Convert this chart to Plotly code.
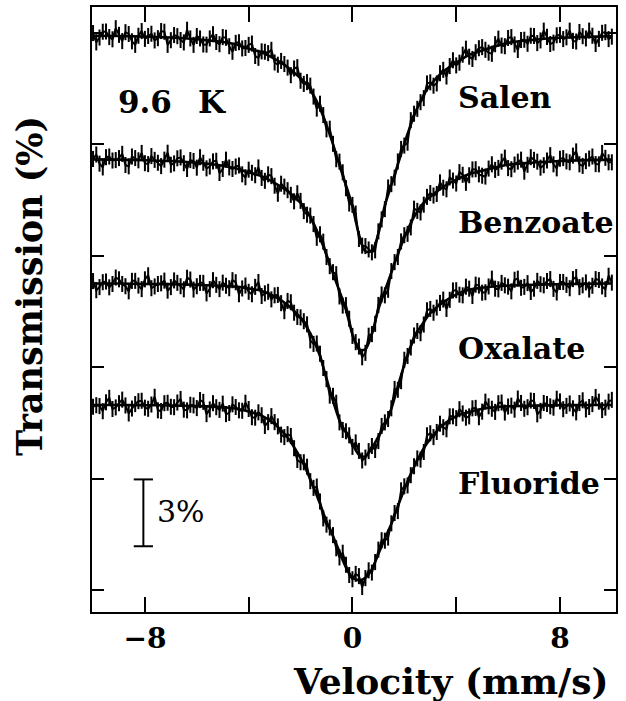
import plotly.graph_objects as go

# ---------------- data (transmission in %, baseline = 100) ----------------
# channel set A (quarter-integer velocities)
V_DATA_A = [-10.0, -9.75, -9.5, -9.25, -9.0, -8.75, -8.5, -8.25, -8.0, -7.75,
            -7.5, -7.25, -7.0, -6.75, -6.5, -6.25, -6.0, -5.75, -5.5, -5.25,
            -5.0, -4.75, -4.5, -4.25, -4.0, -3.75, -3.5, -3.25, -3.0, -2.75,
            -2.5, -2.25, -2.0, -1.75, -1.5, -1.25, -1.0, -0.75, -0.5, -0.25,
            0.0, 0.25, 0.5, 0.75, 1.0, 1.25, 1.5, 1.75, 2.0, 2.25,
            2.5, 2.75, 3.0, 3.25, 3.5, 3.75, 4.0, 4.25, 4.5, 4.75,
            5.0, 5.25, 5.5, 5.75, 6.0, 6.25, 6.5, 6.75, 7.0, 7.25,
            7.5, 7.75, 8.0, 8.25, 8.5, 8.75, 9.0, 9.25, 9.5, 9.75,
            10.0]
# channel set B (in-between velocities)
V_DATA_B = [-9.875, -9.625, -9.375, -9.125, -8.875, -8.625, -8.375, -8.125, -7.875, -7.625,
            -7.375, -7.125, -6.875, -6.625, -6.375, -6.125, -5.875, -5.625, -5.375, -5.125,
            -4.875, -4.625, -4.375, -4.125, -3.875, -3.625, -3.375, -3.125, -2.875, -2.625,
            -2.375, -2.125, -1.875, -1.625, -1.375, -1.125, -0.875, -0.625, -0.375, -0.125,
            0.125, 0.375, 0.625, 0.875, 1.125, 1.375, 1.625, 1.875, 2.125, 2.375,
            2.625, 2.875, 3.125, 3.375, 3.625, 3.875, 4.125, 4.375, 4.625, 4.875,
            5.125, 5.375, 5.625, 5.875, 6.125, 6.375, 6.625, 6.875, 7.125, 7.375,
            7.625, 7.875, 8.125, 8.375, 8.625, 8.875, 9.125, 9.375, 9.625, 9.875]

SALEN_A = [100.08, 99.88, 100.15, 99.80, 100.00, 100.12, 99.71, 99.96, 99.82, 100.05,
           99.85, 100.14, 99.76, 99.94, 99.66, 99.84, 99.95, 99.57, 99.84, 99.68,
           99.90, 99.49, 99.64, 99.39, 99.55, 99.05, 99.26, 99.18, 98.76, 98.83,
           98.53, 98.49, 97.94, 97.88, 97.23, 96.91, 95.76, 95.11, 94.31, 93.12,
           92.37, 90.84, 90.52, 90.24, 91.18, 92.18, 93.30, 94.32, 95.03, 96.17,
           96.68, 97.16, 97.87, 97.82, 98.43, 98.60, 98.63, 99.11, 99.02, 99.22,
           99.45, 99.20, 99.58, 99.52, 99.86, 99.57, 99.77, 99.60, 99.95, 99.75,
           99.91, 99.65, 100.00, 99.89, 99.73, 100.13, 99.84, 99.96, 99.82, 100.12,
           99.92]
SALEN_B = [99.66, 100.14, 99.90, 100.30, 99.72, 100.04, 99.55, 100.17, 99.95, 99.75,
           100.17, 99.55, 99.99, 99.77, 100.23, 99.55, 99.84, 99.56, 100.03, 99.58,
           99.87, 99.24, 99.67, 99.41, 99.61, 98.97, 99.24, 99.33, 98.66, 98.69,
           98.19, 98.55, 97.80, 97.72, 96.69, 96.40, 95.79, 94.42, 93.83, 92.43,
           91.98, 90.54, 90.37, 90.33, 91.72, 93.15, 93.59, 94.88, 95.16, 96.46,
           96.98, 97.82, 97.72, 98.28, 98.13, 98.86, 98.75, 99.38, 98.92, 99.40,
           99.33, 99.15, 99.83, 99.49, 99.90, 99.32, 99.78, 99.96, 99.63, 100.19,
           99.59, 99.98, 99.81, 100.19, 99.70, 99.94, 100.19, 99.59, 100.09, 99.81]

BENZOATE_A = [99.98, 99.77, 100.06, 99.91, 100.02, 99.71, 100.09, 99.92, 99.79, 100.11,
              99.81, 99.95, 99.72, 100.01, 99.79, 99.93, 99.59, 99.81, 99.64, 99.90,
              99.53, 99.60, 99.64, 99.29, 99.50, 99.25, 99.13, 99.29, 98.78, 98.87,
              98.58, 98.08, 98.10, 97.48, 97.06, 96.60, 95.58, 94.90, 93.81, 93.42,
              92.04, 91.56, 91.28, 92.12, 93.43, 93.86, 94.95, 95.58, 96.56, 96.91,
              97.65, 97.93, 98.45, 98.41, 98.69, 99.15, 98.88, 99.27, 99.25, 99.52,
              99.23, 99.55, 99.49, 99.86, 99.57, 99.73, 99.95, 99.72, 99.94, 99.59,
              99.91, 99.74, 99.99, 99.87, 100.13, 99.74, 99.88, 100.09, 99.74, 100.03,
              99.83]
BENZOATE_B = [100.18, 99.60, 100.09, 99.93, 100.21, 99.65, 100.02, 100.25, 99.75, 99.94,
              99.66, 100.26, 99.78, 100.05, 99.53, 99.89, 100.06, 99.56, 99.87, 99.35,
              99.95, 99.53, 99.69, 99.16, 99.36, 99.60, 99.00, 99.21, 98.42, 98.74,
              98.37, 98.44, 97.64, 97.44, 96.44, 96.27, 95.17, 94.81, 93.40, 92.81,
              91.76, 91.08, 92.05, 92.58, 93.90, 94.11, 95.35, 96.28, 96.62, 97.75,
              97.58, 98.28, 98.34, 98.93, 98.62, 99.01, 99.39, 98.91, 99.51, 99.29,
              99.19, 99.74, 99.58, 100.04, 99.52, 99.86, 99.41, 100.06, 99.86, 99.70,
              100.15, 99.56, 100.02, 99.83, 100.32, 99.67, 100.00, 99.75, 100.25, 99.83]

OXALATE_A = [100.09, 99.82, 100.07, 99.96, 100.17, 99.86, 100.10, 99.89, 100.17, 99.77,
             99.96, 100.11, 99.82, 100.01, 99.72, 100.16, 99.86, 100.01, 99.73, 99.92,
             100.02, 99.77, 100.04, 99.76, 99.61, 99.83, 99.42, 99.61, 99.45, 99.10,
             99.20, 98.67, 98.46, 98.15, 97.27, 96.83, 95.69, 94.94, 93.75, 93.35,
             92.65, 92.47, 92.17, 92.69, 92.91, 93.75, 94.38, 95.21, 96.56, 97.11,
             97.85, 98.14, 98.84, 98.90, 99.26, 99.25, 99.68, 99.45, 99.75, 99.93,
             99.57, 99.85, 99.75, 100.01, 99.84, 100.15, 99.79, 100.00, 99.75, 99.95,
             100.09, 99.74, 100.05, 99.92, 100.18, 99.82, 100.03, 99.88, 100.14, 99.73,
             100.02]
OXALATE_B = [99.68, 100.04, 99.81, 100.25, 99.96, 99.63, 100.10, 99.73, 100.35, 99.85,
             99.99, 99.66, 100.12, 99.86, 100.24, 99.71, 100.01, 99.54, 100.13, 99.73,
             99.88, 100.13, 99.50, 99.89, 99.50, 100.05, 99.54, 99.27, 99.47, 98.74,
             99.14, 98.48, 98.29, 97.43, 97.29, 96.19, 94.95, 94.63, 93.41, 93.17,
             92.85, 92.04, 92.46, 92.51, 93.59, 93.90, 95.25, 95.60, 96.73, 97.65,
             97.75, 98.78, 98.67, 99.11, 98.84, 99.67, 99.48, 99.84, 99.42, 99.89,
             99.59, 100.20, 99.72, 99.90, 99.63, 100.20, 99.83, 99.60, 100.10, 99.90,
             100.18, 99.58, 100.05, 99.77, 100.27, 99.90, 99.71, 100.18, 99.85, 100.33]

FLUORIDE_A = [99.91, 99.94, 100.11, 99.81, 100.07, 99.97, 99.83, 100.16, 99.87, 100.01,
              99.75, 100.07, 99.91, 100.10, 99.78, 100.00, 99.85, 100.13, 99.79, 99.89,
              100.05, 99.63, 99.90, 99.73, 99.81, 99.42, 99.53, 99.22, 99.22, 98.66,
              98.68, 98.05, 97.42, 97.22, 96.27, 95.66, 94.62, 94.15, 93.15, 92.82,
              92.17, 92.31, 92.22, 92.47, 93.50, 93.90, 94.68, 95.23, 96.34, 96.84,
              97.59, 97.88, 98.72, 98.78, 98.99, 99.48, 99.40, 99.61, 99.48, 99.86,
              99.69, 99.93, 99.68, 100.10, 99.92, 99.78, 100.08, 99.89, 100.17, 99.73,
              100.03, 99.87, 100.15, 99.95, 99.84, 100.08, 99.79, 100.03, 100.14, 99.87,
              100.22]
FLUORIDE_B = [99.98, 99.71, 100.31, 99.88, 100.23, 99.61, 100.03, 100.18, 99.82, 100.36,
              99.72, 100.09, 99.89, 100.26, 99.75, 99.97, 100.21, 99.58, 100.07, 99.77,
              99.58, 100.02, 99.75, 100.09, 99.44, 99.66, 99.05, 99.49, 99.03, 98.55,
              98.60, 97.52, 97.42, 96.57, 96.33, 94.90, 94.49, 93.56, 93.36, 92.36,
              92.41, 91.82, 92.57, 92.94, 93.92, 94.04, 95.14, 96.16, 96.38, 97.24,
              97.54, 98.63, 98.55, 99.15, 98.90, 99.48, 99.80, 99.42, 99.84, 99.44,
              100.14, 99.82, 100.07, 99.65, 99.96, 100.28, 99.82, 100.19, 99.57, 100.08,
              99.93, 100.27, 99.80, 100.06, 99.66, 100.20, 99.90, 100.35, 99.76, 100.14]

V_FIT = [-10, -9, -8, -7, -6, -5, -4.5, -4, -3.5, -3, -2.5, -2,
         -1.75, -1.5, -1.25, -1, -0.75, -0.5, -0.25, 0, 0.25, 0.5, 0.75, 1, 1.25, 1.5,
         1.75, 2, 2.25, 2.5, 2.75, 3, 3.5, 4, 4.5, 5, 6, 7, 8, 9, 10]

SALEN_FIT = [99.96, 99.95, 99.92, 99.88, 99.80, 99.68, 99.58, 99.38, 99.22, 98.92, 98.55, 98.05,
             97.75, 97.30, 96.70, 95.95, 95.10, 94.15, 93.25, 92.30, 91.05, 90.28, 90.30, 91.08,
             92.35, 93.27, 94.18, 95.12, 95.97, 96.72, 97.31,
             97.75, 98.35, 98.75, 99.10, 99.30, 99.64, 99.78, 99.87, 99.91, 99.94]
BENZOATE_FIT = [99.96, 99.95, 99.92, 99.89, 99.81, 99.68, 99.56, 99.38, 99.21, 98.90, 98.54, 98.01,
                97.62, 97.09, 96.43, 95.68, 94.84, 94.05, 93.21, 92.11, 91.43, 91.44, 92.13, 93.24,
                94.07, 94.88, 95.71, 96.45, 97.10, 97.63, 98.02,
                98.29, 98.73, 99.05, 99.31, 99.45, 99.72, 99.82, 99.89, 99.93, 99.95]
OXALATE_FIT = [99.98, 99.98, 99.96, 99.95, 99.92, 99.88, 99.84, 99.76, 99.65, 99.40, 99.02, 98.44,
               98.00, 97.45, 96.72, 95.72, 94.72, 93.85, 93.29, 92.79, 92.30, 92.22, 92.60, 93.11,
               93.62, 94.37, 95.37, 96.33, 97.18, 97.81, 98.25,
               98.65, 99.14, 99.48, 99.70, 99.79, 99.89, 99.93, 99.95, 99.97, 99.98]
FLUORIDE_FIT = [99.99, 99.99, 99.98, 99.97, 99.94, 99.89, 99.83, 99.70, 99.51, 99.14, 98.53, 97.60,
                97.00, 96.30, 95.56, 94.76, 94.10, 93.40, 92.70, 92.25, 92.13, 92.24, 92.62, 93.30,
                94.00, 94.65, 95.45, 96.20, 96.90, 97.50, 98.05,
                98.47, 99.10, 99.49, 99.67, 99.82, 99.93, 99.96, 99.98, 99.99, 99.99]

NAMES = ["Salen", "Benzoate", "Oxalate", "Fluoride"]
DATA_A = [SALEN_A, BENZOATE_A, OXALATE_A, FLUORIDE_A]
DATA_B = [SALEN_B, BENZOATE_B, OXALATE_B, FLUORIDE_B]
FITS = [SALEN_FIT, BENZOATE_FIT, OXALATE_FIT, FLUORIDE_FIT]
OFFSETS = [24.92, 19.37, 13.78, 8.32]      # vertical stacking of spectra (%)
ERR = 0.36                                 # statistical error bar (%)
SCALE_BAR = 3                              # 3 % scale bar
SCALE_BASE = 1.97

X_TICKS = [-8, -4, 0, 4, 8]
X_TICKTEXT = ["\u22128", "", "0", "", "8"]
Y_TICKS = [0, 5, 10, 15, 20, 25]

FONT = "DejaVu Serif"

fig = go.Figure()
for name, da, db, f, off in zip(NAMES, DATA_A, DATA_B, FITS, OFFSETS):
    pts = sorted(zip(V_DATA_A + V_DATA_B, da + db))
    xs = [p[0] for p in pts]
    ys = [p[1] - 100 + off for p in pts]
    fig.add_trace(go.Scatter(
        x=xs, y=ys, mode="lines",
        line=dict(color="black", width=2.0),
        error_y=dict(type="constant", value=ERR, thickness=2.0, width=0, color="black"),
        showlegend=False, hoverinfo="skip"))
    fig.add_trace(go.Scatter(
        x=V_FIT, y=[t - 100 + off for t in f], mode="lines",
        line=dict(color="black", width=2.6, shape="spline", smoothing=0.8),
        showlegend=False, name=name))

# scale bar
bx, cap = -8.06, 0.37
fig.add_shape(type="line", x0=bx, x1=bx, y0=SCALE_BASE, y1=SCALE_BASE + SCALE_BAR,
              line=dict(color="black", width=2))
for yy in (SCALE_BASE, SCALE_BASE + SCALE_BAR):
    fig.add_shape(type="line", x0=bx - cap, x1=bx + cap, y0=yy, y1=yy,
                  line=dict(color="black", width=2))
fig.add_annotation(x=-7.6, y=SCALE_BASE + SCALE_BAR / 2 + 0.05, text="3%", showarrow=False,
                   xanchor="left", yanchor="middle",
                   font=dict(family=FONT, size=30, color="black"))

# labels
label_y = [96, 221, 348, 483]
for name, py in zip(NAMES, label_y):
    fig.add_annotation(x=(456 - 92) / 524, y=(612 - py) / 607, xref="paper", yref="paper",
                       text=name, showarrow=False, xanchor="left", yanchor="middle",
                       font=dict(family=FONT, size=30, color="black", weight="bold"))
fig.add_annotation(x=(116 - 92) / 524, y=(612 - 100) / 607, xref="paper", yref="paper",
                   text="9.6", showarrow=False, xanchor="left", yanchor="middle",
                   font=dict(family=FONT, size=31, color="black", weight="bold"))
fig.add_annotation(x=(196 - 92) / 524, y=(612 - 100) / 607, xref="paper", yref="paper",
                   text="K", showarrow=False, xanchor="left", yanchor="middle",
                   font=dict(family=FONT, size=31, color="black", weight="bold"))

# axis titles
fig.add_annotation(x=(451 - 92) / 524, y=(612 - 681) / 607, xref="paper", yref="paper",
                   text="Velocity (mm/s)", showarrow=False, xanchor="center", yanchor="middle",
                   font=dict(family=FONT, size=36, color="black", weight="bold"))
fig.add_annotation(x=(29 - 92) / 524, y=(612 - 285) / 607, xref="paper", yref="paper",
                   text="Transmission (%)", showarrow=False, textangle=-90,
                   xanchor="center", yanchor="middle",
                   font=dict(family=FONT, size=35, color="black", weight="bold"))

fig.update_xaxes(range=[-10.04, 10.16], tickvals=X_TICKS, ticktext=X_TICKTEXT,
                 ticks="inside", ticklen=15, tickwidth=2, tickcolor="black",
                 showline=True, linewidth=2, linecolor="black", mirror="ticks",
                 showgrid=False, zeroline=False,
                 tickfont=dict(family=FONT, size=28, color="black", weight="bold"))
fig.update_yaxes(range=[-0.98, 26.17], tickvals=Y_TICKS, showticklabels=False,
                 ticks="inside", ticklen=12, tickwidth=2, tickcolor="black",
                 showline=True, linewidth=2, linecolor="black", mirror="ticks",
                 showgrid=False, zeroline=False)

fig.update_layout(width=626, height=701, margin=dict(l=92, r=10, t=5, b=89),
                  paper_bgcolor="white", plot_bgcolor="white", showlegend=False)

fig.write_html("out.html")
